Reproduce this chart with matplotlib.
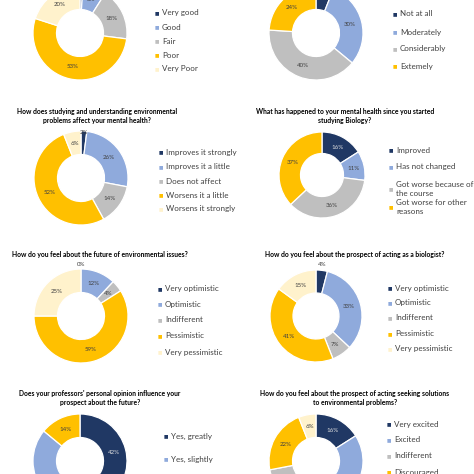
import matplotlib
matplotlib.use("Agg")
import matplotlib.pyplot as plt
import numpy as np

plt.rcParams['font.family'] = ['Lato', 'DejaVu Sans']

W = H = 474.0
NAVY, BLUE, GREY, GOLD, CREAM = '#203864', '#8faadc', '#bfbfbf', '#ffc000', '#fff2cc'
COLORS = [NAVY, BLUE, GREY, GOLD, CREAM]
TXT = '#404040'

# survey answers (percent)
health_labels = ['Very good', 'Good', 'Fair', 'Poor', 'Very Poor']
health_values = [1, 8, 18, 53, 20]

worry_labels = ['Not at all', 'Moderately', 'Considerably', 'Extemely']
worry_values = [6, 30, 40, 24]

env_effect_title = 'How does studying and understanding environmental\nproblems affect your mental health?'
env_effect_labels = ['Improves it strongly', 'Improves it a little', 'Does not affect',
                     'Worsens it a little', 'Worsens it strongly']
env_effect_values = [2, 26, 14, 52, 6]

bio_title = 'What has happened to your mental health since you started\nstudying Biology?'
bio_labels = ['Improved', 'Has not changed', 'Got worse because of\nthe course',
              'Got worse for other\nreasons']
bio_values = [16, 11, 36, 37]

future_title = 'How do you feel about the future of environmental issues?'
future_labels = ['Very optimistic', 'Optimistic', 'Indifferent', 'Pessimistic', 'Very pessimistic']
future_values = [0, 12, 4, 59, 25]

biologist_title = 'How do you feel about the prospect of acting as a biologist?'
biologist_labels = ['Very optimistic', 'Optimistic', 'Indifferent', 'Pessimistic', 'Very pessimistic']
biologist_values = [4, 33, 7, 41, 15]

prof_title = "Does your professors' personal opinion influence your\nprospect about the future?"
prof_labels = ['Yes, greatly', 'Yes, slightly', 'No']
prof_values = [42, 44, 14]

solutions_title = 'How do you feel about the prospect of acting seeking solutions\nto environmental problems?'
solutions_labels = ['Very excited', 'Excited', 'Indifferent', 'Discouraged', 'Very discouraged']
solutions_values = [16, 40, 16, 22, 6]

fig = plt.figure(figsize=(4.74, 4.74), dpi=100)


def fx(x):
    return x / W


def fy(y):
    return 1 - y / H


def donut(values, labels, cx, cy, r, leg_x, leg_y, title=None, title_y=None,
          title_x=None, colors=COLORS, out_below=3, out_r=1.1):
    ax = fig.add_axes([fx(cx - r), fy(cy + r), 2 * r / W, 2 * r / H])
    wedges, _ = ax.pie(values, colors=colors[:len(values)], startangle=90,
                       counterclock=False, radius=1,
                       wedgeprops=dict(width=0.5, edgecolor='white', linewidth=0.9))
    ax.set_xlim(-1, 1)
    ax.set_ylim(-1, 1)
    ax.set_aspect('equal')
    ax.axis('off')
    for w in wedges:
        w.set_clip_on(False)
    # percent labels, Excel style: mid ring, tiny slices pushed out
    start = 0.0
    total = float(sum(values))
    for i, v in enumerate(values):
        mid = (start + v / 2) / total * 2 * np.pi
        start += v
        small = v < out_below
        rr = out_r if small else 0.74
        col = '#e0e0e0' if (colors[i] == NAVY and not small) else TXT
        ax.text(rr * np.sin(mid), rr * np.cos(mid), '%d%%' % v, ha='center', va='center',
                fontsize=4.4, color=col, clip_on=False)
    # legend
    for lab, col, ly in zip(labels, colors, leg_y):
        fig.text(fx(leg_x), fy(ly), '\u25A0', color=col, fontsize=3.4, ha='left', va='center')
        fig.text(fx(leg_x + 7), fy(ly), lab, color=TXT, fontsize=5.8, ha='left', va='center',
                 linespacing=1.2)
    if title:
        fig.text(fx(title_x), fy(title_y), title, ha='center', va='center', fontsize=4.9,
                 fontweight='bold', color='black', linespacing=1.3)
    return ax


donut(health_values, health_labels, 80, 33, 47, 155, [13, 27, 41, 55, 69])
donut(worry_values, worry_labels, 316, 33, 47, 393, [14, 32, 49, 66])

donut(env_effect_values, env_effect_labels, 81, 178, 47, 159, [152, 167, 181, 195, 209],
      env_effect_title, 116, 97, out_r=0.96)
donut(bio_values, bio_labels, 322, 175, 43, 389, [150, 167, 189, 207],
      bio_title, 116, 345)

donut(future_values, future_labels, 81, 316, 47, 158, [289, 304, 320, 336, 352],
      future_title, 255, 100, out_r=1.1)
donut(biologist_values, biologist_labels, 316, 316, 46, 388, [288, 303, 318, 334, 349],
      biologist_title, 255, 355, out_below=5, out_r=1.12)

donut(prof_values, prof_labels, 80, 461, 47, 164, [436, 459, 482],
      prof_title, 398, 100, colors=[NAVY, BLUE, GOLD])
donut(solutions_values, solutions_labels, 316, 461, 47, 387, [424, 440, 456, 472, 488],
      solutions_title, 398, 355)

fig.savefig('out.png', dpi=100, facecolor='white')
